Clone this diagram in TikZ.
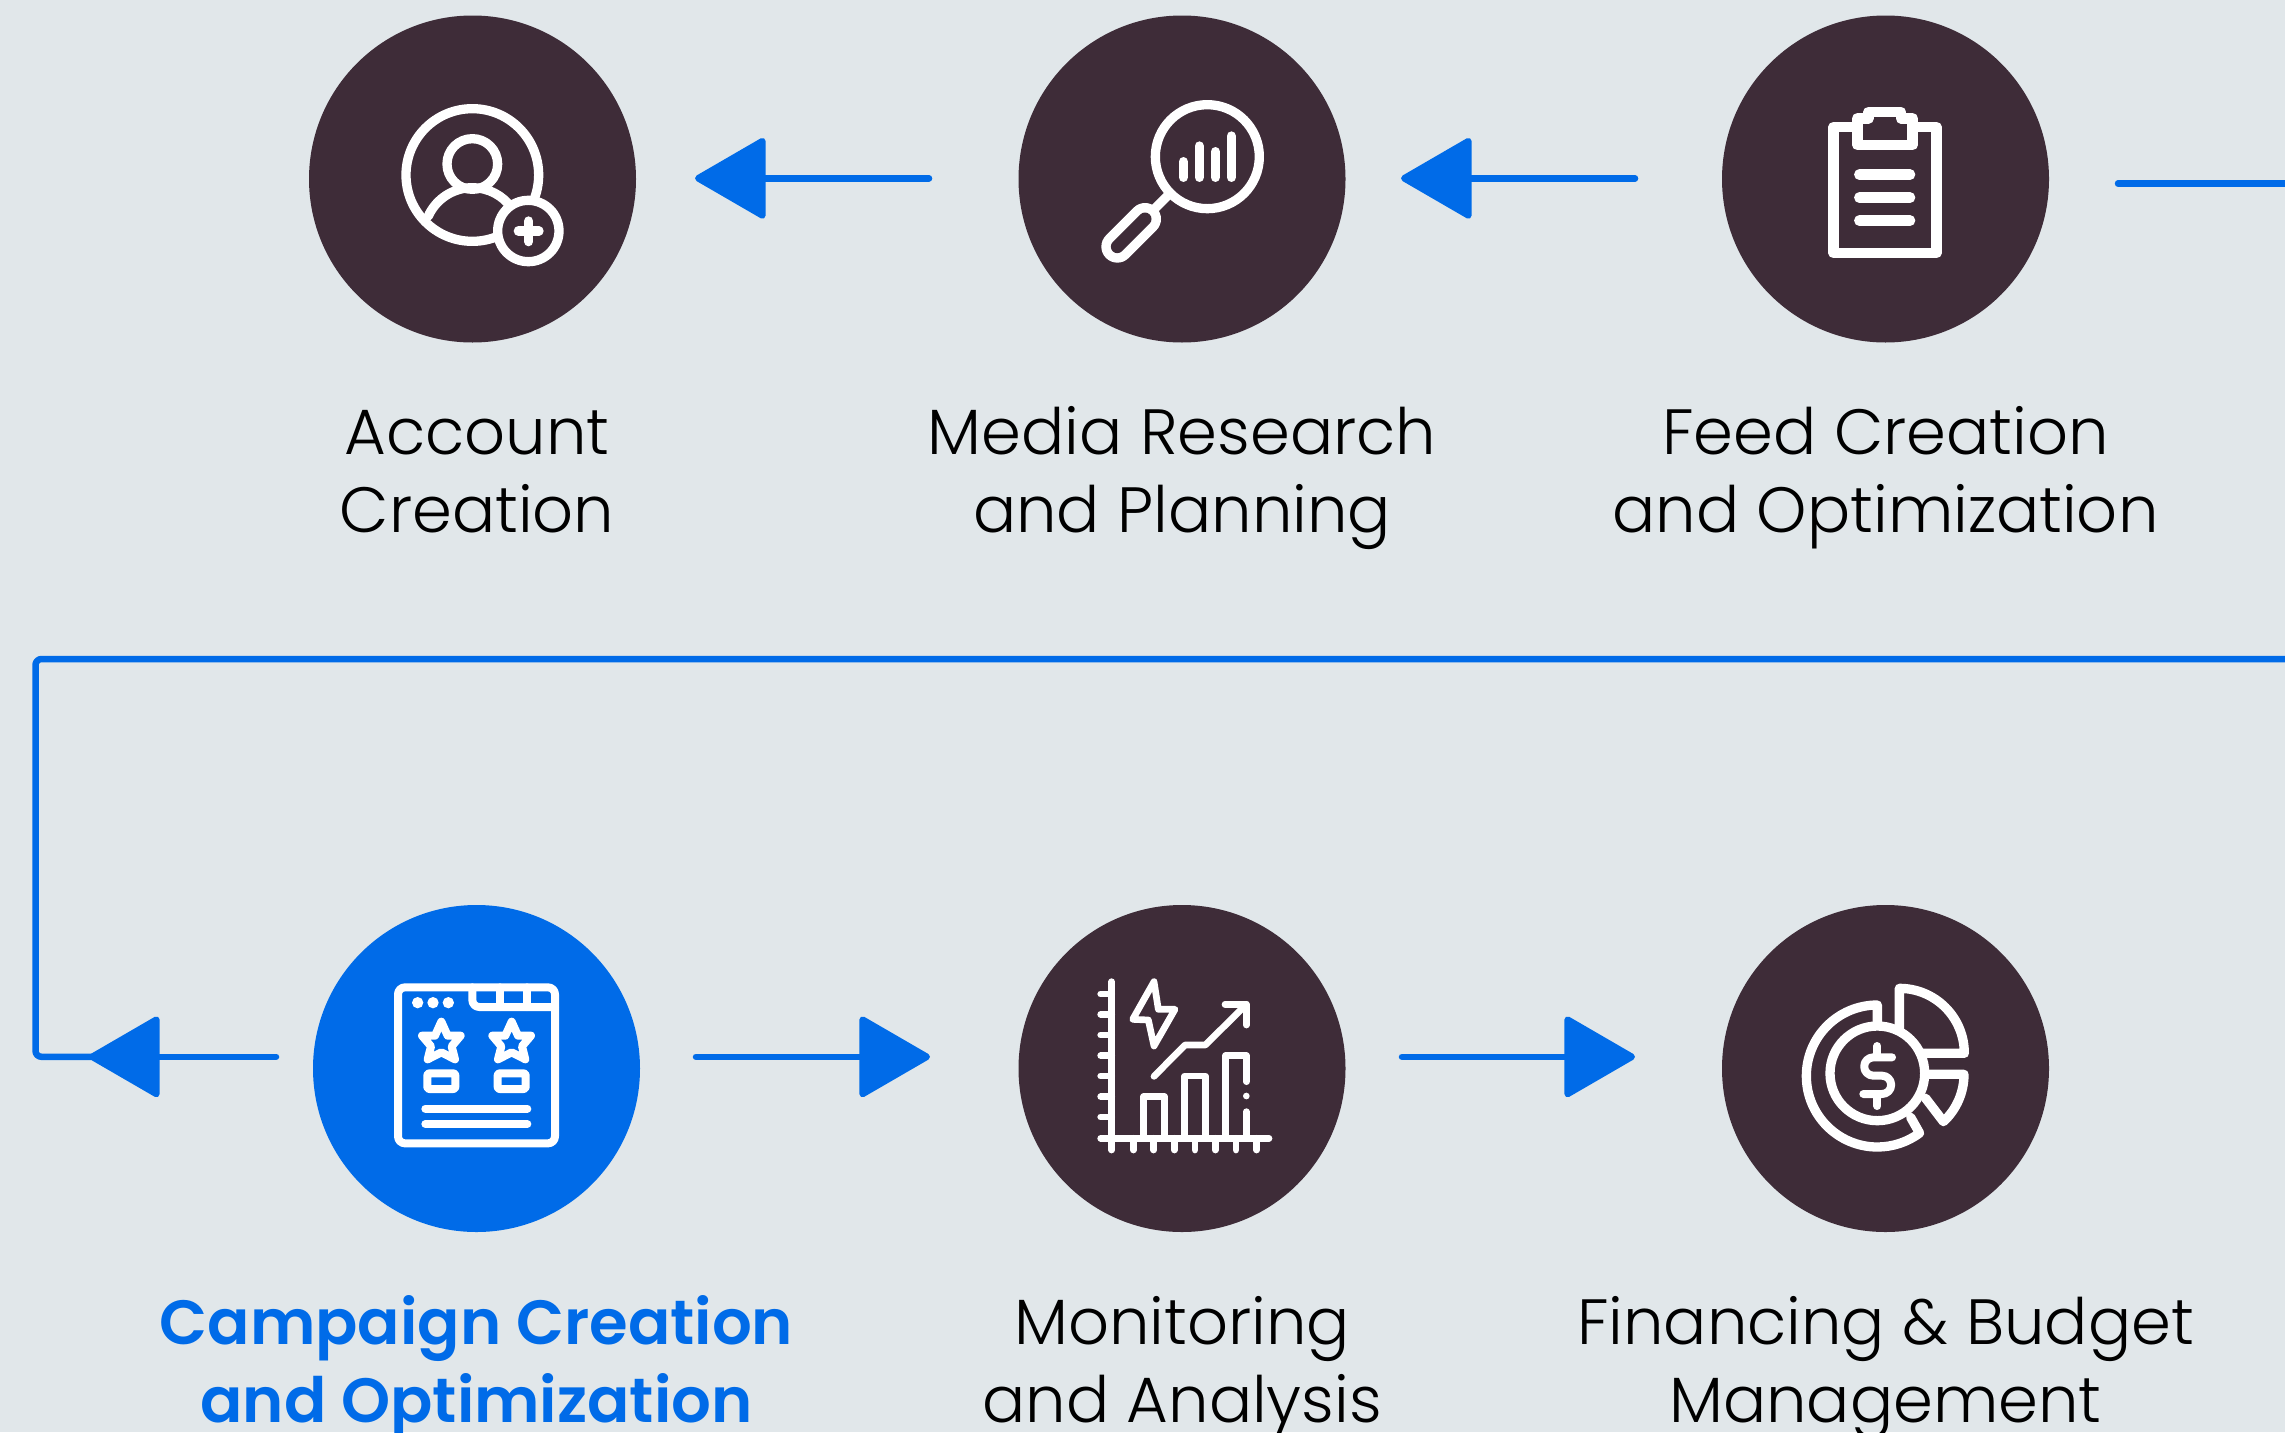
\documentclass[tikz,border=0pt]{standalone}
\usepackage{fontspec}
\setmainfont{Poppins Light}[BoldFont={Poppins SemiBold}]
\usetikzlibrary{arrows.meta}
\definecolor{bgc}{HTML}{E1E7EA}
\definecolor{darkc}{HTML}{3E2C38}
\definecolor{bluec}{HTML}{006BE8}
\tikzset{
  stepdisc/.style={circle,minimum size=327pt,inner sep=0pt,fill=darkc},
  bluedisc/.style={stepdisc,fill=bluec},
  steplabel/.style={align=center,font=\fontsize{64}{77.7}\selectfont,text=black,anchor=base},
  bluelabel/.style={steplabel,font=\fontsize{62.5}{77.7}\selectfont\bfseries,text=bluec},
  flow/.style={draw=bluec,line width=6.5pt,line cap=round,line join=round},
  flowarrow/.style={flow,-{Triangle[length=74pt,width=84pt,round]}},
  ico/.style={draw=white,line width=9.3pt,line cap=round,line join=round},
  ico2/.style={draw=white,line width=6.7pt,line cap=round,line join=round},
  ico3/.style={draw=white,line width=8pt,line cap=round,line join=round},
}
\begin{document}
\begin{tikzpicture}[x=1pt,y=1pt,yscale=-1]
\useasboundingbox (0,0) rectangle (2285,1432);
\fill[bgc] (0,0) rectangle (2285,1432);
% discs
\node[stepdisc] (account) at (472.5,179) {};
\node[stepdisc] (media) at (1182,179) {};
\node[stepdisc] (feed) at (1885.5,179) {};
\node[bluedisc] (campaign) at (476.5,1068.5) {};
\node[stepdisc] (monitor) at (1182,1068.5) {};
\node[stepdisc] (finance) at (1885.5,1068.5) {};
% labels
\node[steplabel] (l1) at (477,532) {Account\\Creation};
\node[steplabel] (l2) at (1182,532) {Media Research\\and Planning};
\node[steplabel] (l3) at (1885.5,532) {Feed Creation\\and Optimization};
\node[bluelabel] (l4) at (476.5,1422) {Campaign Creation\\and Optimization};
\node[steplabel] (l5) at (1182,1422) {Monitoring\\and Analysis};
\node[steplabel] (l6) at (1885.5,1422) {Financing \& Budget\\Management};
% connector ends
\coordinate (a1s) at (929,178.3); \coordinate (a1e) at (695,178.3);
\coordinate (a2s) at (1635,178.3); \coordinate (a2e) at (1401,178.3);
\coordinate (a3s) at (2118,183.5); \coordinate (a3e) at (2290,183.5);
\coordinate (a4s) at (2290,659); \coordinate (a4c) at (35.5,659); \coordinate (a4m) at (35.5,1056.8); \coordinate (a4e) at (91,1056.8);
\coordinate (a5s) at (276,1056.8); \coordinate (a5e) at (89,1056.8);
\coordinate (a6s) at (696,1056.8); \coordinate (a6e) at (930,1056.8);
\coordinate (a7s) at (1402,1056.8); \coordinate (a7e) at (1635,1056.8);
\draw[flowarrow] (a1s) -- (a1e);
\draw[flowarrow] (a2s) -- (a2e);
\draw[flow] (a3s) -- (a3e);
\draw[flow,rounded corners=6pt] (a4s) -- (a4c) -- (a4m) -- (a4e);
\draw[flowarrow] (a5s) -- (a5e);
\draw[flowarrow] (a6s) -- (a6e);
\draw[flowarrow] (a7s) -- (a7e);
% icon: account
\begin{scope}[shift={(360,60)},scale=0.33333]
\draw[ico] (337,345) circle (199);
\draw[ico] (337,312) circle (76);
\draw[ico] (337,528) ++(204:145) arc[start angle=204,end angle=318,radius=145];
\fill[darkc] (505,513) circle (92);
\draw[ico] (505,513) circle (92);
\draw[ico] (475,513) -- (537,513);
\draw[ico] (506,483) -- (506,545);
\end{scope}
% icon: media
\begin{scope}[shift={(1060,70)},scale=0.33333]
\draw[ico] (442,260) circle (156);
\foreach \x/\y in {370/275,418/228,466/245,514/198}{\draw[ico] (\x,\y) -- (\x,322);}
\draw[ico] (322,378) -- (285,415);
\draw[white,line width=32pt,line cap=round] (172,530) -- (255,447);
\draw[darkc,line width=13pt,line cap=round] (172,530) -- (255,447);
\end{scope}
% icon: feed
\begin{scope}[shift={(1790,80)},scale=0.33333]
\draw[ico,line width=10.6pt] (131,141) rectangle (439,519);
\draw[ico,fill=darkc,line width=10.6pt] (202,195) -- (202,115) -- (235,115) -- (235,96) -- (333,96) -- (333,115) -- (368,115) -- (368,195) -- cycle;
\foreach \y in {284,353,422}{\draw[ico,line width=10.6pt] (208,\y) -- (360,\y);}
\end{scope}
% icon: campaign
\begin{scope}[shift={(380,960)},scale=0.33333]
\draw[ico3] (54,82) [rounded corners=7pt] rectangle (525,550);
\draw[ico3,rounded corners=7pt] (277,82) -- (277,141) -- (525,141);
\draw[ico3] (360,82) -- (360,141);
\draw[ico3] (442,82) -- (442,141);
\foreach \x in {113,159,205}{\fill[white] (\x,128) circle (17);}
\foreach \c in {184,395}{
  \draw[ico3] (\c,185) -- (\c+19,227) -- (\c+58,227) -- (\c+31,259) -- (\c+41,298) -- (\c,277) -- (\c-41,298) -- (\c-31,259) -- (\c-58,227) -- (\c-19,227) -- cycle;
  \draw[ico3,line cap=butt,rounded corners=2pt] (\c-42,340) rectangle (\c+42,387);
}
\draw[ico3] (136,446) -- (442,446);
\draw[ico3] (136,492) -- (442,492);
\end{scope}
% icon: monitoring
\begin{scope}[shift={(1080,960)},scale=0.33333]
\draw[ico2] (95,65) -- (95,535);
\draw[ico2] (62,535) -- (567,535);
\foreach \y in {102,163,225,287,348,410,471}{\draw[ico2] (62,\y) -- (95,\y);}
\foreach \x in {95,160,221,283,345,406,468,530}{\draw[ico2] (\x,535) -- (\x,570);}
\draw[ico2] (191,535) -- (191,410) -- (253,410) -- (253,535);
\draw[ico2] (314,535) -- (314,348) -- (376,348) -- (376,535);
\draw[ico2] (437,535) -- (437,287) -- (499,287) -- (499,365);
\fill[white] (499,408) circle (10);
\draw[ico2] (499,455) -- (499,535);
\draw[ico2] (222,349) -- (315,255) -- (376,255) -- (499,133);
\draw[ico2] (435,133) -- (499,133) -- (499,195);
\draw[ico2] (222,65) -- (235,148) -- (285,148) -- (222,258) -- (205,180) -- (158,178) -- cycle;
\end{scope}
% icon: finance
\begin{scope}[shift={(1780,970)},scale=0.33333]
\draw[ico] (292,310) circle (142);
\draw[ico] (292,165) -- (292,105) arc[start angle=270,end angle=53.5,radius=213] -- (392,442);
\draw[ico] (358,180) -- (358,55) arc[start angle=270,end angle=360,radius=195] -- (430,250);
\draw[ico] (445,313) -- (552,313) arc[start angle=0,end angle=47,radius=194] -- (437,385);
\draw[ico,line width=8pt] (336,262) -- (280,262) arc[start angle=270,end angle=90,radius=27.5] -- (306,317) arc[start angle=-90,end angle=90,radius=27.5] -- (250,372);
\draw[ico,line width=8pt] (292,228) -- (292,250);
\draw[ico,line width=8pt] (292,385) -- (292,408);
\end{scope}
\end{tikzpicture}
\end{document}
